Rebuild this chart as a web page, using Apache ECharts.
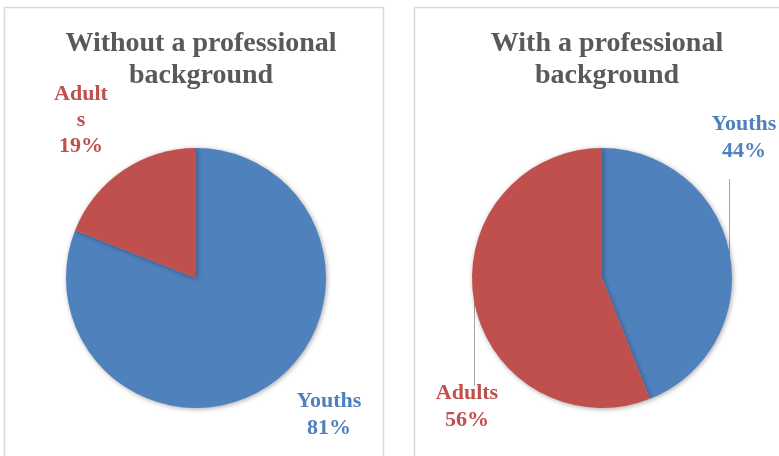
<!DOCTYPE html>
<html>
<head>
<meta charset="utf-8">
<script src="https://cdn.jsdelivr.net/npm/echarts@6/dist/echarts.min.js"></script>
<style>
  html, body { margin: 0; padding: 0; background: #fff; }
  #main { width: 779px; height: 456px; }
</style>
</head>
<body>
<div id="main"></div>
<script>
// data
var categories = ['Youths', 'Adults'];
var withoutValues = [81, 19];
var withValues = [44, 56];
var titles = ['Without a professional\nbackground', 'With a professional\nbackground'];
var colors = ['#4F81BD', '#C0504D'];

var myChart = echarts.init(document.getElementById('main'));

// label spots (label centres) per chart, per slice
var labelSpots = [
    [[329, 415], [81, 120]],
    [[744, 138], [467, 407]]
];

function makeData(values, seriesNo) {
    return categories.map(function (name, i) {
        var item = {name: name, value: values[i], itemStyle: {color: colors[i]},
            label: {color: colors[i]}};
        if (seriesNo === 0 && i === 1) {
            // the narrow text box in the original wraps "Adults"
            item.label.formatter = function (p) {
                return p.name.slice(0, -1) + '\n' + p.name.slice(-1) + '\n' + Math.round(p.percent) + '%';
            };
            item.label.lineHeight = 26;
        }
        return item;
    });
}

function makeSeries(values, seriesNo, cx) {
    return {
        type: 'pie',
        center: [cx, 278],
        radius: 130,
        startAngle: 90,
        clockwise: true,
        animation: false,
        silent: true,
        data: makeData(values, seriesNo),
        itemStyle: {shadowBlur: 5, shadowColor: 'rgba(0,0,0,0.35)', shadowOffsetX: 1, shadowOffsetY: 1},
        label: {
            show: true,
            formatter: function (p) { return p.name + '\n' + Math.round(p.percent) + '%'; },
            fontFamily: 'Liberation Serif',
            fontWeight: 'bold',
            fontSize: 22,
            lineHeight: 27,
            align: 'center',
            overflow: 'none'
        },
        labelLine: {show: false},
        labelLayout: function (p) {
            var s = labelSpots[seriesNo][p.dataIndex];
            return {x: s[0], y: s[1], align: 'center', verticalAlign: 'middle'};
        }
    };
}

var titleStyle = {fontFamily: 'Liberation Serif', fontWeight: 'bold', fontSize: 28, lineHeight: 32, color: '#595959'};

var option = {
    backgroundColor: '#fff',
    title: [
        {text: titles[0], left: 196, top: 23, textAlign: 'center', textStyle: titleStyle},
        {text: titles[1], left: 602, top: 23, textAlign: 'center', textStyle: titleStyle}
    ],
    graphic: [
        {type: 'rect', shape: {x: 4.5, y: 7.5, width: 379, height: 460}, style: {fill: null, stroke: '#d9d9d9', lineWidth: 1.5}, silent: true},
        {type: 'rect', shape: {x: 414.5, y: 7.5, width: 380, height: 460}, style: {fill: null, stroke: '#d9d9d9', lineWidth: 1.5}, silent: true},
        // leader lines of the right chart
        {type: 'line', shape: {x1: 729.5, y1: 179, x2: 729.5, y2: 255}, style: {stroke: '#a6a6a6', lineWidth: 1}, silent: true},
        {type: 'line', shape: {x1: 474.5, y1: 301, x2: 474.5, y2: 386}, style: {stroke: '#a6a6a6', lineWidth: 1}, silent: true}
    ],
    series: [
        makeSeries(withoutValues, 0, 196),
        makeSeries(withValues, 1, 602)
    ]
};

myChart.setOption(option);
</script>
</body>
</html>
